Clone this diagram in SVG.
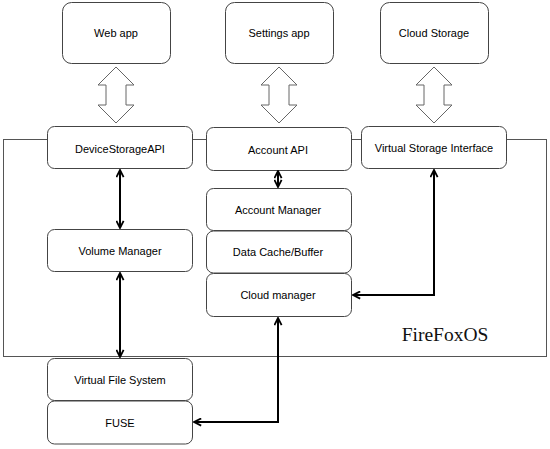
<svg xmlns="http://www.w3.org/2000/svg" width="550" height="449" viewBox="0 0 550 449">
<defs>
<marker id="ah" viewBox="0 0 10 10" refX="9" refY="5" markerWidth="4.5" markerHeight="4.5" orient="auto-start-reverse" markerUnits="strokeWidth">
<path d="M1,1 L9,5 L1,9" fill="none" stroke="#000" stroke-width="2"/>
</marker>
</defs>
<style>
.box{fill:#fff;stroke:#444;stroke-width:1}
.lbl{font-family:"Liberation Sans",Arial,sans-serif;font-size:11px;fill:#000;text-anchor:middle}
.hol{fill:#fff;stroke:#666;stroke-width:1}
.con{fill:none;stroke:#000;stroke-width:2;marker-start:url(#ah);marker-end:url(#ah)}
</style>
<rect width="550" height="449" fill="#fff"/>
<g id="frame">
<rect x="3.5" y="139.5" width="543" height="217" fill="#fff" stroke="#555" stroke-width="1"/>
<text x="445" y="341" font-family="'Liberation Serif','Times New Roman',serif" font-size="19.5" fill="#111" text-anchor="middle">FireFoxOS</text>
</g>
<g id="hollow-arrows">
<polygon class="hol" points="116,67 134,85 126,85 126,105 134,105 116,123 98,105 106,105 106,85 98,85"/>
<polygon class="hol" points="279,67 297,85 289,85 289,105 297,105 279,123 261,105 269,105 269,85 261,85"/>
<polygon class="hol" points="434,67 452,85 444,85 444,105 452,105 434,123 416,105 424,105 424,85 416,85"/>
</g>
<g id="web-app"><rect class="box" x="62.5" y="2.5" width="108" height="61" rx="9"/><text class="lbl" x="116" y="37">Web app</text></g>
<g id="settings-app"><rect class="box" x="225.5" y="2.5" width="108" height="61" rx="9"/><text class="lbl" x="279" y="37">Settings app</text></g>
<g id="cloud-storage"><rect class="box" x="380.5" y="2.5" width="108" height="61" rx="9"/><text class="lbl" x="434" y="37">Cloud Storage</text></g>
<g id="device-storage-api"><rect class="box" x="47.5" y="126.5" width="145" height="42" rx="7"/><text class="lbl" x="120" y="153">DeviceStorageAPI</text></g>
<g id="account-api"><rect class="box" x="206.5" y="127.5" width="145" height="43" rx="7"/><text class="lbl" x="278" y="154">Account API</text></g>
<g id="virtual-storage-interface"><rect class="box" x="361.5" y="126.5" width="145" height="42" rx="7"/><text class="lbl" x="434" y="152">Virtual Storage Interface</text></g>
<g id="account-manager"><rect class="box" x="206.5" y="188.5" width="145" height="42" rx="7"/><text class="lbl" x="278" y="214">Account Manager</text></g>
<g id="data-cache"><rect class="box" x="206.5" y="231" width="145" height="42" rx="7"/><text class="lbl" x="278" y="256">Data Cache/Buffer</text></g>
<g id="cloud-manager"><rect class="box" x="206.5" y="273.5" width="145" height="43" rx="7"/><text class="lbl" x="278" y="299">Cloud manager</text></g>
<g id="volume-manager"><rect class="box" x="47.5" y="229.5" width="145" height="42" rx="7"/><text class="lbl" x="120" y="255">Volume Manager</text></g>
<g id="virtual-file-system"><rect class="box" x="47.5" y="358.5" width="145" height="42" rx="7"/><text class="lbl" x="120" y="384">Virtual File System</text></g>
<g id="fuse"><rect class="box" x="47.5" y="401" width="145" height="43" rx="7"/><text class="lbl" x="120" y="427">FUSE</text></g>
<g id="connectors">
<path class="con" d="M120,170 L120,228"/>
<path class="con" d="M120,273 L120,357"/>
<path class="con" d="M278,171 L278,187"/>
<path class="con" d="M434,170 L434,295 L353,295"/>
<path class="con" d="M194,422 L278,422 L278,318"/>
</g>
</svg>
